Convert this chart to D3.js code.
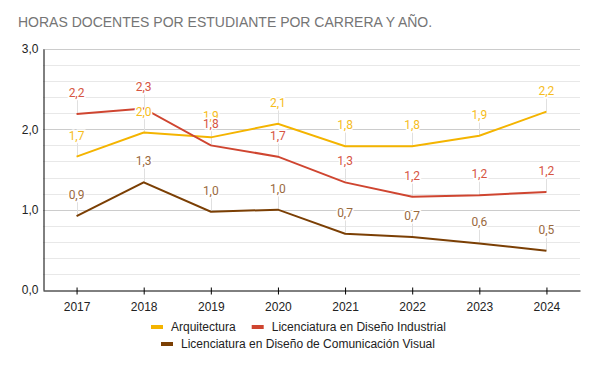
<!DOCTYPE html>
<html>
<head>
<meta charset="utf-8">
<script src="https://cdn.jsdelivr.net/npm/d3@7"></script>
<style>
  body { margin: 0; background: #fff; }
  svg { display: block; font-family: Arial, "Liberation Sans", sans-serif; }
</style>
</head>
<body>
<div id="chart"></div>
<script>
const years = ["2017", "2018", "2019", "2020", "2021", "2022", "2023", "2024"];
const arquitectura = [1.66, 1.96, 1.90, 2.07, 1.79, 1.79, 1.92, 2.22];
const disenoIndustrial = [2.19, 2.26, 1.80, 1.66, 1.34, 1.16, 1.18, 1.22];
const comunicacionVisual = [0.92, 1.34, 0.975, 1.0, 0.70, 0.66, 0.58, 0.49];
const yTicks = [0, 1, 2, 3];

const series = [
  { name: "Arquitectura", values: arquitectura, color: "#f4b400", label: "#f6bd1c" },
  { name: "Licenciatura en Diseño Industrial", values: disenoIndustrial, color: "#cf4530", label: "#d65442" },
  { name: "Licenciatura en Diseño de Comunicación Visual", values: comunicacionVisual, color: "#7b3f04", label: "#9a6a3e" },
];

const W = 593, H = 365;
const margin = { top: 49, right: 13, bottom: 75, left: 43 };
const width = W - margin.left - margin.right;
const height = H - margin.top - margin.bottom;

const svg = d3.select("#chart").append("svg").attr("width", W).attr("height", H);

svg.append("text")
  .attr("x", 18).attr("y", 27)
  .attr("fill", "#757575")
  .style("font-size", "14px")
  .text("HORAS DOCENTES POR ESTUDIANTE POR CARRERA Y AÑO.");

const g = svg.append("g").attr("transform", `translate(${margin.left},${margin.top})`);

const x = d3.scalePoint().domain(years).range([0, width]).padding(0.5);
const y = d3.scaleLinear().domain([0, 3]).range([height, 0]);

const fmt = (v) => d3.format(".1f")(v).replace(".", ",");

// minor gridlines
g.append("g").selectAll("line")
  .data(d3.range(1, 15).map((i) => i * 0.2).filter((v) => Math.abs(v - Math.round(v)) > 1e-6))
  .join("line")
  .attr("x1", 0).attr("x2", width)
  .attr("y1", (d) => Math.round(y(d)) + 0.5).attr("y2", (d) => Math.round(y(d)) + 0.5)
  .attr("stroke", "#e8e8e8");

// major gridlines
g.append("g").selectAll("line")
  .data(yTicks.slice(1))
  .join("line")
  .attr("x1", 0).attr("x2", width)
  .attr("y1", (d) => Math.round(y(d)) + 0.5).attr("y2", (d) => Math.round(y(d)) + 0.5)
  .attr("stroke", "#cccccc");

// y axis
const yAxis = g.append("g")
  .attr("transform", "translate(0.5,0)")
  .call(d3.axisLeft(y).tickValues(yTicks).tickSize(0).tickPadding(5).tickFormat(fmt));
yAxis.select(".domain").attr("stroke", "#000");
yAxis.selectAll("text").attr("fill", "#222").style("font-size", "12px").style("font-family", "Arial, 'Liberation Sans', sans-serif");

// x axis
const xAxis = g.append("g")
  .attr("transform", `translate(0,${Math.round(height) + 0.5})`)
  .call(d3.axisBottom(x).tickSizeInner(4).tickSizeOuter(0).tickPadding(8));
xAxis.select(".domain").attr("stroke", "#000");
xAxis.selectAll(".tick line").attr("stroke", "#000").attr("y1", -3);
xAxis.selectAll("text").attr("fill", "#222").style("font-size", "12px").style("font-family", "Arial, 'Liberation Sans', sans-serif");

const line = d3.line().x((d, i) => x(years[i])).y((d) => y(d));

// stems
series.forEach((s) => {
  g.append("g").selectAll("line")
    .data(s.values)
    .join("line")
    .attr("x1", (d, i) => Math.round(x(years[i])) + 0.5)
    .attr("x2", (d, i) => Math.round(x(years[i])) + 0.5)
    .attr("y1", (d) => y(d))
    .attr("y2", (d) => y(d) - 14)
    .attr("stroke", "#e0e0e0");
});

// lines
series.forEach((s) => {
  g.append("path")
    .datum(s.values)
    .attr("fill", "none")
    .attr("stroke", s.color)
    .attr("stroke-width", 2)
    .attr("d", line);
});

// value labels
series.forEach((s) => {
  g.append("g").selectAll("text")
    .data(s.values)
    .join("text")
    .attr("x", (d, i) => x(years[i]))
    .attr("y", (d) => y(d) - 17)
    .attr("text-anchor", "middle")
    .attr("fill", s.label)
    .attr("stroke", "#fff")
    .attr("stroke-width", 3)
    .attr("paint-order", "stroke")
    .style("font-family", "Roboto, Arial, sans-serif")
    .style("font-size", "12px")
    .text(fmt);
});

// legend
const legendRows = [[series[0], series[1]], [series[2]]];
const legendCenter = 298;
legendRows.forEach((row, r) => {
  const ly = 327 + r * 17;
  const lg = svg.append("g");
  let cx = 0;
  row.forEach((s, k) => {
    if (k > 0) cx += 16;
    lg.append("rect")
      .attr("x", cx).attr("y", ly - 2)
      .attr("width", 12).attr("height", 4)
      .attr("fill", s.color);
    const t = lg.append("text")
      .attr("x", cx + 20).attr("y", ly + 4)
      .attr("fill", "#222")
      .style("font-size", "12px")
      .text(s.name);
    cx += 20 + t.node().getComputedTextLength();
  });
  lg.attr("transform", `translate(${Math.round(legendCenter - cx / 2)},0)`);
});
</script>
</body>
</html>
